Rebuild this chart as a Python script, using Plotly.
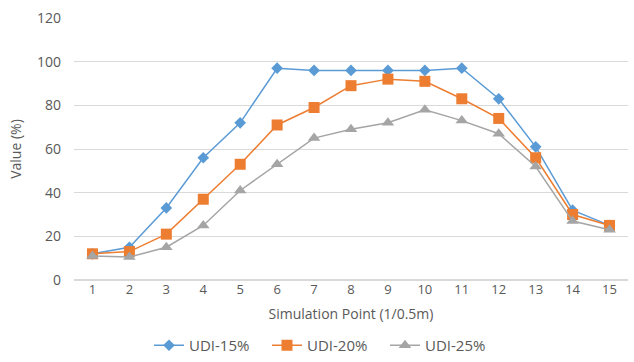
import plotly.graph_objects as go

points = list(range(1, 16))
udi15 = [12, 15, 33, 56, 72, 97, 96, 96, 96, 96, 97, 83, 61, 32, 25]
udi20 = [12, 13, 21, 37, 53, 71, 79, 89, 92, 91, 83, 74, 56, 30, 25]
udi25 = [11, 10.5, 15, 25, 41, 53, 65, 69, 72, 78, 73, 67, 52, 27, 23]
names = ["UDI-15%", "UDI-20%", "UDI-25%"]
colors = ["#5B9BD5", "#ED7D31", "#A5A5A5"]
symbols = ["diamond", "square", "triangle-up"]
sizes = [9, 11, 11]

fig = go.Figure()
for ys, n, c, s, sz in zip([udi15, udi20, udi25], names, colors, symbols, sizes):
    fig.add_trace(go.Scatter(x=points, y=ys, name=n, mode="lines+markers",
                             line=dict(color=c, width=1.5),
                             marker=dict(symbol=s, size=sz, color=c)))

fig.update_layout(
    width=634, height=362,
    margin=dict(l=74, r=6, t=18, b=82, autoexpand=False),
    paper_bgcolor="white", plot_bgcolor="white",
    font=dict(family="Open Sans, Arial", size=13, color="#595959"),
    showlegend=True,
    legend=dict(orientation="h", x=0.235, xanchor="left", xref="container",
                yref="container", y=-0.005, yanchor="bottom",
                itemwidth=30, entrywidth=73, tracegroupgap=0,
                font=dict(size=15, color="#595959")),
    xaxis=dict(range=[0.5, 15.5], tickmode="array", tickvals=points,
               showgrid=False, zeroline=False, showline=False, ticks="",
               automargin=False, tickfont=dict(size=13),
               title=dict(text="Simulation Point (1/0.5m)", standoff=12,
                          font=dict(size=14, color="#595959"))),
    yaxis=dict(range=[0, 120], dtick=20, showgrid=True, gridcolor="#D9D9D9",
               gridwidth=1, zeroline=True, zerolinecolor="#D9D9D9", showline=False,
               ticks="", ticklabelstandoff=12, automargin=False,
               tickfont=dict(size=14),
               title=dict(text="Value (%)", standoff=12,
                          font=dict(size=14, color="#595959"))),
)
fig.write_html("out.html")
